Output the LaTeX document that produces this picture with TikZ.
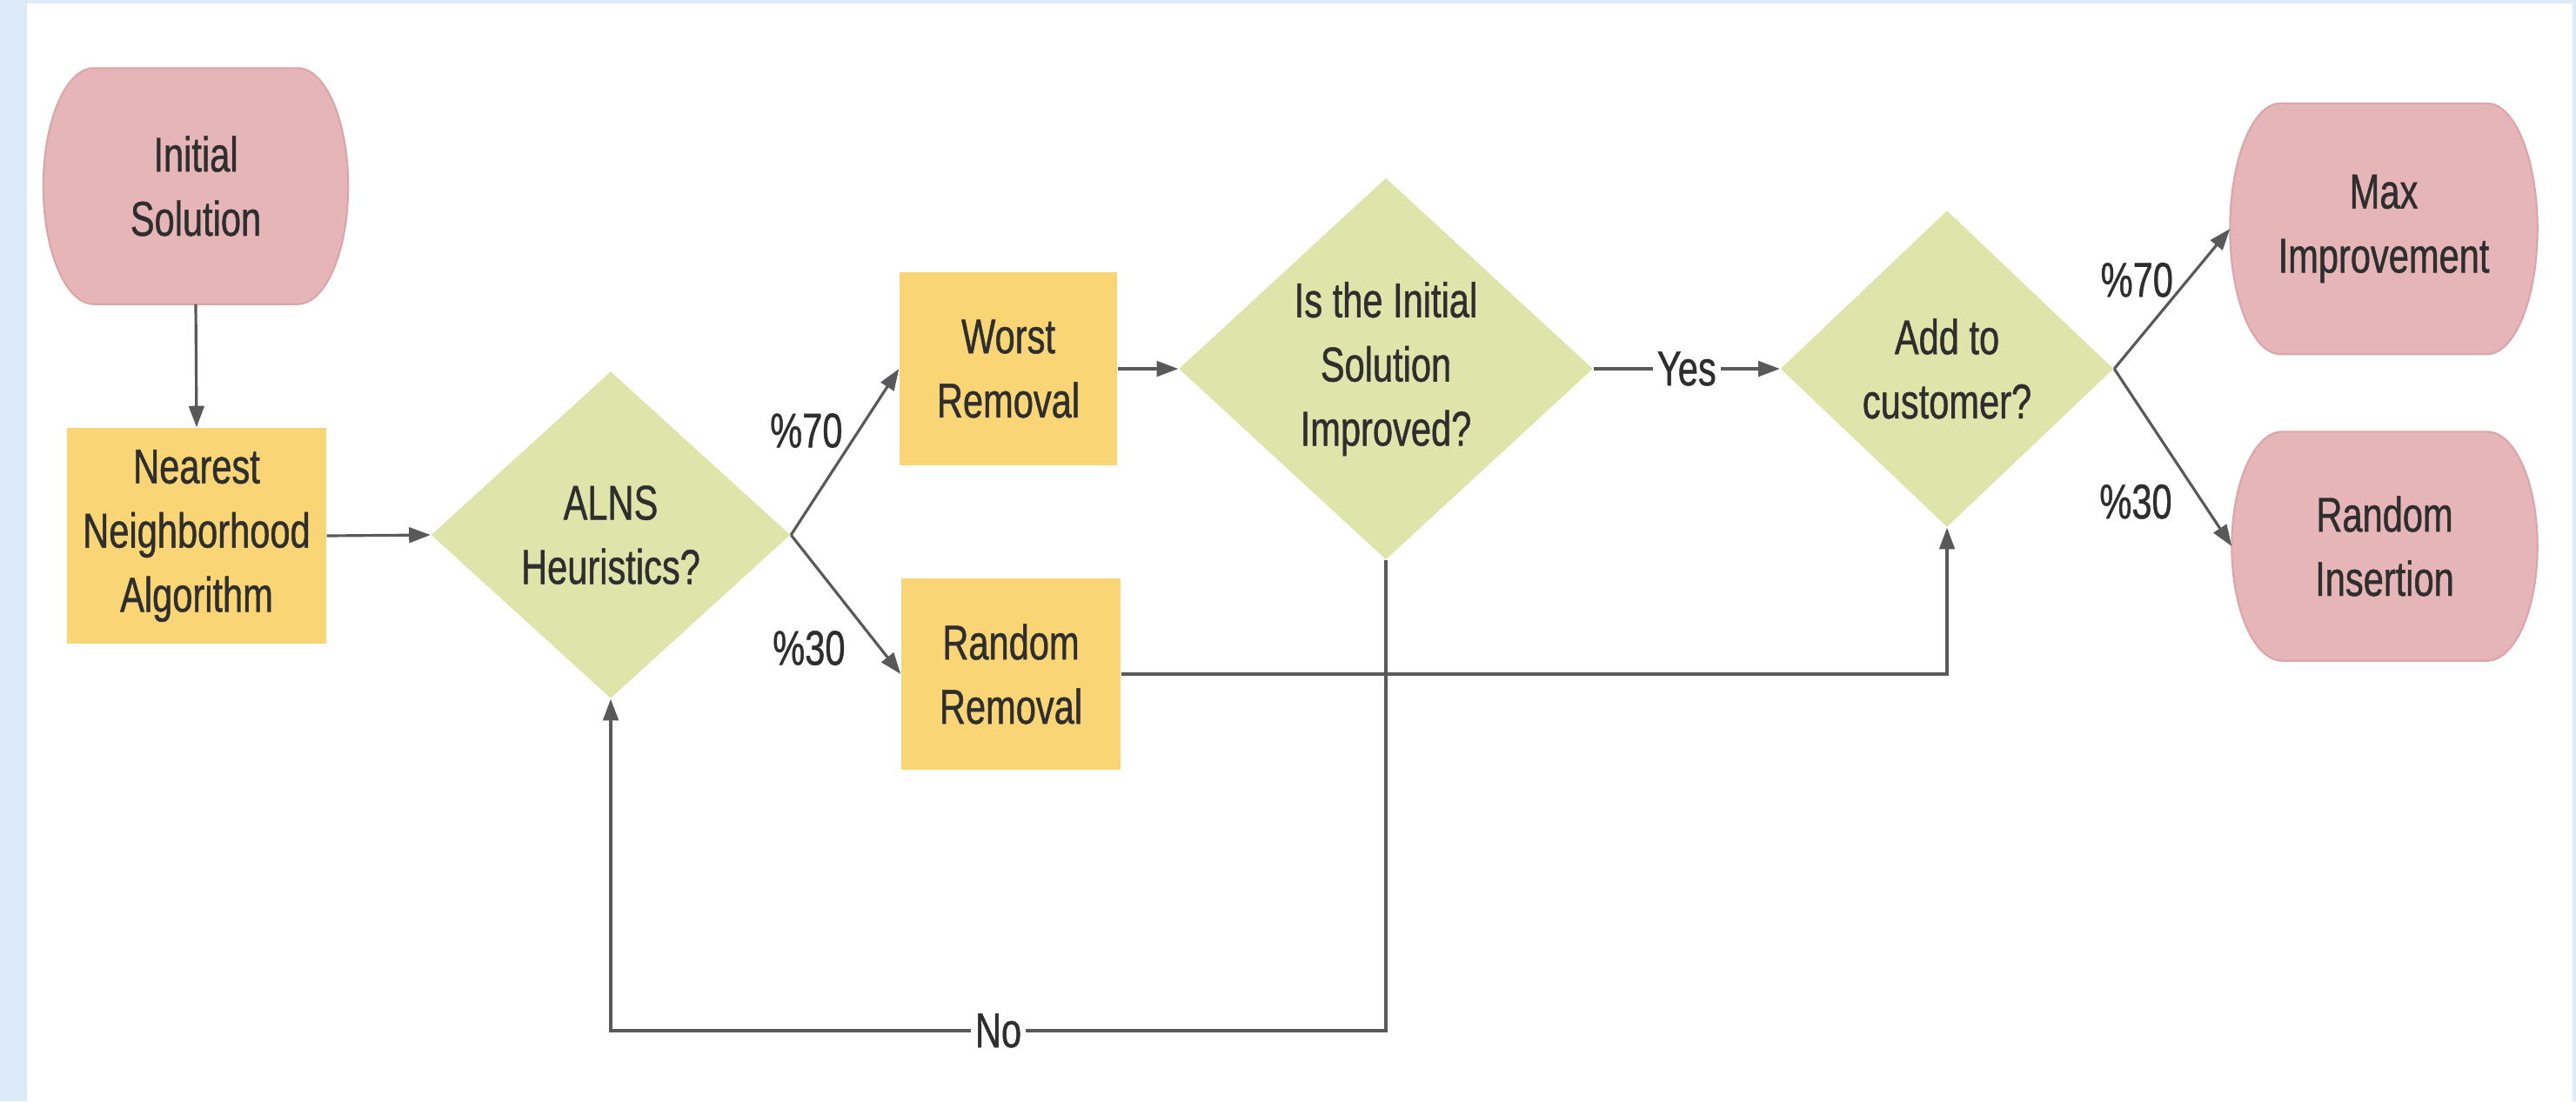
\documentclass[tikz,border=0pt]{standalone}
\usepackage{fontspec}
\setmainfont{Liberation Sans}[FakeStretch=0.74,FakeBold=0.8]
\usetikzlibrary{shapes.geometric,arrows.meta,calc,backgrounds,positioning}

\definecolor{bgblue}{HTML}{DDEAF8}
\definecolor{capsulepink}{HTML}{E6B5B7}
\definecolor{capsuleedge}{HTML}{DBA5A9}
\definecolor{boxyellow}{HTML}{F9D576}
\definecolor{diagreen}{HTML}{DFE4AA}
\definecolor{linegray}{HTML}{595959}
\definecolor{txtgray}{HTML}{2E2E2E}

\def\capr{0.58cm}
\newcommand{\capsulefill}[1]{%
  \path[fill=capsulepink, draw=capsuleedge, line width=0.6pt]
    let \p1=(#1.north east), \p2=(#1.south west), \n1={0.5*(\y1-\y2)} in
    ({\x2+\capr},\y1) -- ({\x1-\capr},\y1)
    arc[start angle=90, end angle=-90, x radius=\capr, y radius=\n1]
    -- ({\x2+\capr},\y2)
    arc[start angle=270, end angle=90, x radius=\capr, y radius=\n1] -- cycle;}

\tikzset{
  every node/.style={font=\fontsize{16}{21}\selectfont, text=txtgray},
  capsule/.style={align=center, inner sep=0pt},
  procbox/.style={fill=boxyellow, align=center, inner sep=0pt},
  decide/.style={diamond, fill=diagreen, align=center, inner sep=0pt},
  link/.style={draw=linegray, line width=0.9pt},
  flow/.style={link, -{Triangle[length=7pt,width=5pt]}},
  lbl/.style={fill=white, inner sep=1.5pt},
}

\begin{document}
\begin{tikzpicture}
\useasboundingbox (0,0) rectangle (29.61,-12.66);

\node[capsule, minimum width=3.49cm, minimum height=2.70cm] (init) at (2.25,-2.14) {Initial\\Solution};
\node[procbox, minimum width=2.98cm, minimum height=2.48cm] (nna) at (2.26,-6.16) {Nearest\\Neighborhood\\Algorithm};
\node[decide, minimum width=4.13cm, minimum height=3.76cm] (alns) at (7.02,-6.15) {ALNS\\Heuristics?};
\node[procbox, minimum width=2.50cm, minimum height=2.22cm] (worst) at (11.59,-4.24) {Worst\\Removal};
\node[procbox, minimum width=2.52cm, minimum height=2.20cm] (rrem) at (11.62,-7.75) {Random\\Removal};
\node[decide, minimum width=4.76cm, minimum height=4.39cm] (impr) at (15.93,-4.24) {Is the Initial\\Solution\\Improved?};
\node[decide, minimum width=3.83cm, minimum height=3.64cm] (add) at (22.38,-4.24) {Add to\\customer?};
\node[capsule, minimum width=3.52cm, minimum height=2.87cm] (maxi) at (27.40,-2.63) {Max\\Improvement};
\node[capsule, minimum width=3.50cm, minimum height=2.62cm] (rins) at (27.41,-6.28) {Random\\Insertion};
\coordinate (loopy) at (0,-11.85);

\begin{scope}[on background layer]
\fill[bgblue] (0,0) rectangle (29.61,-12.66);
\fill[white] (0.31,-0.04) rectangle (29.57,-12.66);
\capsulefill{init}
\capsulefill{maxi}
\capsulefill{rins}
\end{scope}

\draw[flow] (init.south) -- (nna.north);
\draw[flow] (nna.east) -- (alns.west);
\draw[flow] (alns.east) -- node[pos=0.5, above left, xshift=3pt, yshift=-2.5pt] {\%70} (worst.west);
\draw[flow] (alns.east) -- node[pos=0.7, below left=0pt and 3.6pt, yshift=4.3pt] {\%30} (rrem.west);
\draw[flow] (worst.east) -- (impr.west);
\draw[flow] (impr.east) -- node[lbl] {Yes} (add.west);
\draw[flow] (rrem.east) -| (add.south);
\draw[flow] (add.east) -- node[pos=0.45, above left, xshift=6pt, yshift=-1pt] {\%70} (maxi.west);
\draw[flow] (add.east) -- node[pos=0.65, below left=0pt and 2.3pt, yshift=3.7pt] {\%30} (rins.west);
\draw[flow] (impr.south) -- (impr.south |- loopy) -- node[lbl] {No} (alns.south |- loopy) -- (alns.south);
\end{tikzpicture}
\end{document}
